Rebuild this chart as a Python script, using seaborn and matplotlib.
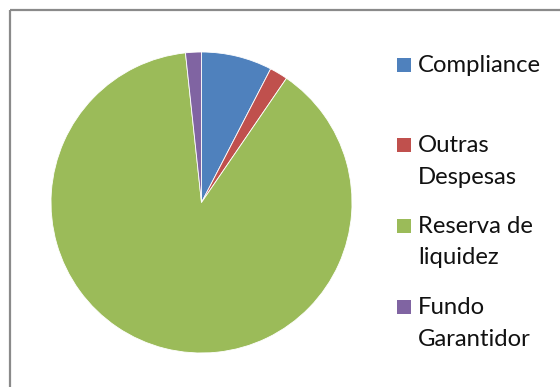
import matplotlib
matplotlib.use("Agg")
import matplotlib.pyplot as plt
from matplotlib.patches import Rectangle
from matplotlib.lines import Line2D
import seaborn as sns

# Budget allocation shares (%)
categories = ["Compliance", "Outras Despesas", "Reserva de liquidez", "Fundo Garantidor"]
legend_labels = ["Compliance", "Outras\nDespesas", "Reserva de\nliquidez", "Fundo\nGarantidor"]
shares = [7.6, 1.95, 88.75, 1.7]
colors = ["#4F81BD", "#C0504D", "#9BBB59", "#8064A2"]

sns.set_theme(style="white")
plt.rcParams["font.family"] = ["Lato", "DejaVu Sans"]

W, H = 560, 387
fig = plt.figure(figsize=(W / 100, H / 100), dpi=100)
fig.patch.set_facecolor("white")

def fx(px):
    return px / W

def fy(py):
    return 1 - py / H

# Chart-area frame: top and left edges (the rest runs off the canvas)
frame_kw = dict(transform=fig.transFigure, color="#8a8a8a", linewidth=1.6,
                solid_capstyle="butt")
fig.lines.append(Line2D([fx(10), 1.0], [fy(10), fy(10)], **frame_kw))
fig.lines.append(Line2D([fx(10), fx(10)], [fy(10), 0.0], **frame_kw))

# Pie
cx, cy, r = 201.5, 202.5, 150.5
ax = fig.add_axes([fx(cx - r), fy(cy + r), 2 * r / W, 2 * r / H])
ax.pie(shares, colors=colors, startangle=90, counterclock=False,
       wedgeprops=dict(edgecolor="white", linewidth=0.6))
ax.set_xlim(-1, 1)
ax.set_ylim(-1, 1)
ax.set_aspect("equal")
ax.axis("off")

# Legend: square swatch aligned with the first text line
baselines = [72, 152, 233, 314]
for label, color, base in zip(legend_labels, colors, baselines):
    fig.patches.append(Rectangle((fx(397), fy(base)), 14 / W, 14 / H,
                                 transform=fig.transFigure,
                                 facecolor=color, edgecolor="none"))
    for i, line in enumerate(label.split("\n")):
        fig.text(fx(418), fy(base + i * 31.5), line, fontsize=17.2,
                 color="#111111", ha="left", va="baseline")

fig.savefig("out.png", dpi=100, facecolor="white")
